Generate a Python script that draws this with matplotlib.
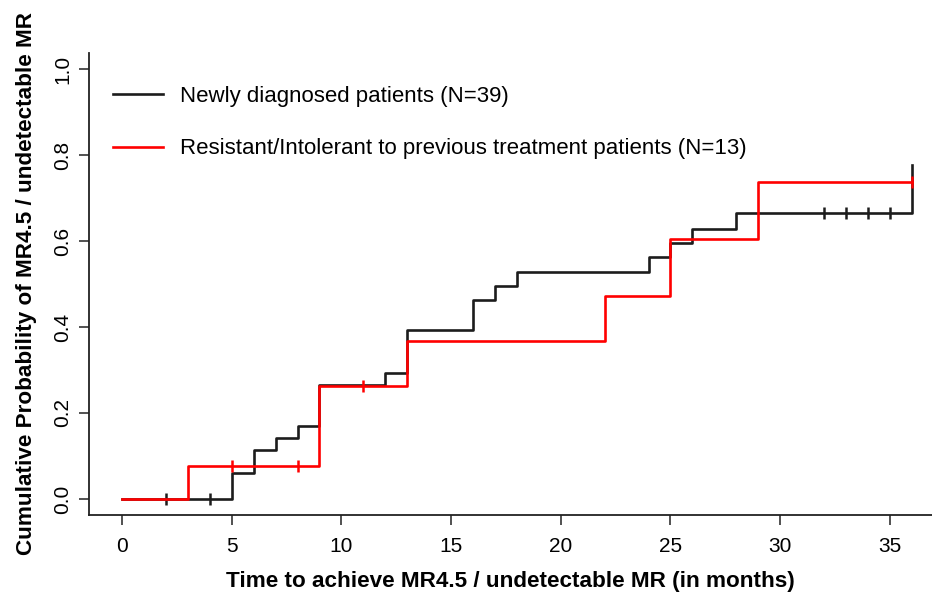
import matplotlib
matplotlib.use("Agg")
import matplotlib.pyplot as plt

plt.rcParams['font.family'] = ['Liberation Sans', 'DejaVu Sans']

# Kaplan-Meier style cumulative incidence
new_times = [0, 5, 6, 7, 8, 9, 12, 13, 16, 17, 18, 24, 25, 26, 28, 36]
new_prob = [0, 0.060, 0.113, 0.141, 0.170, 0.266, 0.294, 0.392, 0.462,
            0.496, 0.528, 0.563, 0.595, 0.629, 0.666, 0.777]
new_cens_t = [2, 4, 32, 33, 34, 35]
new_cens_p = [0, 0, 0.666, 0.666, 0.666, 0.666]

res_times = [0, 3, 9, 13, 22, 25, 29, 36]
res_prob = [0, 0.077, 0.262, 0.367, 0.473, 0.605, 0.737, 0.737]
res_cens_t = [5, 8, 11, 36]
res_cens_p = [0.077, 0.077, 0.262, 0.737]

labels = ["Newly diagnosed patients (N=39)",
          "Resistant/Intolerant to previous treatment patients (N=13)"]
x_ticks = [0, 5, 10, 15, 20, 25, 30, 35]
y_ticks = [0.0, 0.2, 0.4, 0.6, 0.8, 1.0]

fig = plt.figure(figsize=(9.32, 5.97), dpi=100)
ax = fig.add_axes([0.0955, 0.1374, 0.9045, 0.7738])

black = "#1c1c1c"
red = "#ff0000"
lw = 1.9

ax.step(new_times, new_prob, where='post', color=black, lw=lw, label=labels[0])
ax.plot(new_cens_t, new_cens_p, '|', color=black, ms=8, mew=1.8)
ax.step(res_times, res_prob, where='post', color=red, lw=lw, label=labels[1])
ax.plot(res_cens_t, res_cens_p, '|', color=red, ms=8, mew=1.8)

ax.set_xlim(-1.504, 36.92)
ax.set_ylim(-0.0372, 1.0372)
ax.set_xticks(x_ticks)
ax.set_yticks(y_ticks)
ax.set_yticklabels([f"{v:.1f}" for v in y_ticks], rotation=90, va='center')

for s in ['top', 'right']:
    ax.spines[s].set_visible(False)
for s in ['left', 'bottom']:
    ax.spines[s].set_linewidth(1.3)
    ax.spines[s].set_color("#222222")
ax.tick_params(axis='both', length=7, width=1.1, labelsize=15, color="#222222")
ax.tick_params(axis='x', pad=9)
ax.tick_params(axis='y', pad=5)

ax.set_xlabel("Time to achieve MR4.5 / undetectable MR (in months)",
              fontsize=16.2, fontweight='bold', labelpad=11)
ax.set_ylabel("Cumulative Probability of MR4.5 / undetectable MR",
              fontsize=16.2, fontweight='bold', labelpad=12)

ax.legend(loc='upper left', bbox_to_anchor=(0.0285, 0.928), frameon=False,
          fontsize=16, handlelength=2.25, handletextpad=0.77, labelspacing=1.4,
          borderpad=0, borderaxespad=0)

fig.savefig("out.png", dpi=100)
